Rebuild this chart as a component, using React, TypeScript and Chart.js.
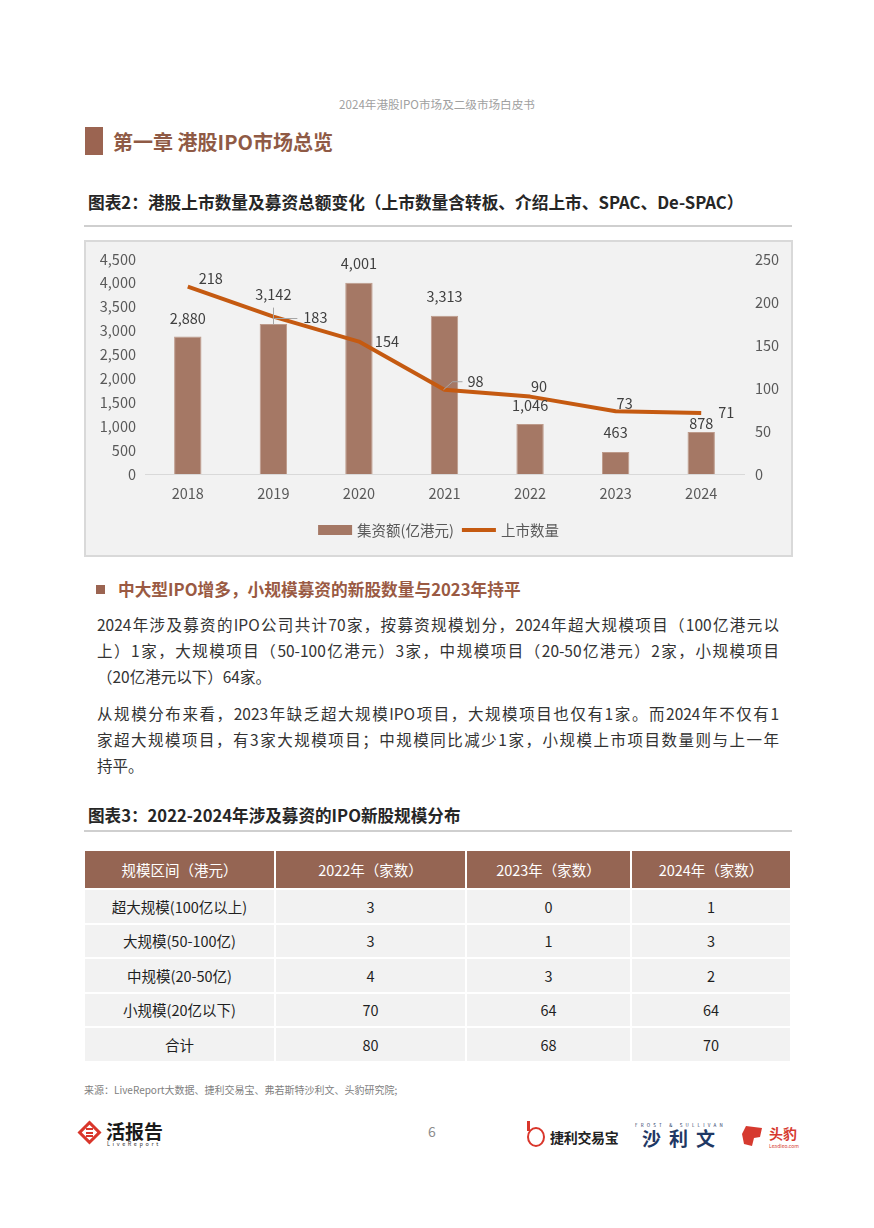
import React, { useEffect, useRef } from 'react';
import { Chart, registerables } from 'chart.js';

Chart.register(...registerables);

const FONT = '"Noto Sans CJK SC", "Noto Sans", sans-serif';

// ---------- data ----------
const years = ['2018', '2019', '2020', '2021', '2022', '2023', '2024'];
const fundsRaised = [2880, 3142, 4001, 3313, 1046, 463, 878]; // 亿港元
const listingCount = [218, 183, 154, 98, 90, 73, 71];
const legendLabels = ['集资额(亿港元)', '上市数量'];
const leftAxis = { min: 0, max: 4500, step: 500 };
const rightAxis = { min: 0, max: 250, step: 50 };

const tableHeader = ['规模区间（港元）', '2022年（家数）', '2023年（家数）', '2024年（家数）'];
const tableRowLabels = ['超大规模(100亿以上)', '大规模(50-100亿)', '中规模(20-50亿)', '小规模(20亿以下)', '合计'];
const count2022 = [3, 3, 4, 70, 80];
const count2023 = [0, 1, 3, 64, 68];
const count2024 = [1, 3, 2, 64, 70];

const para1 = [
  '2024年涉及募资的IPO公司共计70家，按募资规模划分，2024年超大规模项目（100亿港元以',
  '上）1家，大规模项目（50-100亿港元）3家，中规模项目（20-50亿港元）2家，小规模项目',
  '（20亿港元以下）64家。',
];
const para2 = [
  '从规模分布来看，2023年缺乏超大规模IPO项目，大规模项目也仅有1家。而2024年不仅有1',
  '家超大规模项目，有3家大规模项目；中规模同比减少1家，小规模上市项目数量则与上一年',
  '持平。',
];

// ---------- label layout (offsets from the mark, in px) ----------
const BAR_LABEL_LIFT = [18, 29, 19, 19, 19, 19, 9];
const LINE_LABEL_OFFSET: [number, number][] = [
  [23, -8], [42, 1], [28, 0], [31, -8], [9, -10], [9, -8], [25, 0],
];

// ---------- styles ----------
const BAR_COLOR = '#A57865';
const LINE_COLOR = '#C55A11';
const TICK_COLOR = '#595959';
const LABEL_COLOR = '#404040';
const BROWN = '#9B6451';

const fmt = (v: number) => Number(v).toLocaleString('en-US');

const overlayPlugin = {
  id: 'overlay',
  afterDatasetsDraw(chart: any) {
    const ctx = chart.ctx;
    ctx.save();
    ctx.font = `14.5px ${FONT}`;
    ctx.fillStyle = LABEL_COLOR;
    ctx.textAlign = 'center';
    ctx.textBaseline = 'middle';
    const barMeta = chart.getDatasetMeta(0);
    barMeta.data.forEach((el: any, i: number) => {
      ctx.fillText(fmt(fundsRaised[i]), el.x, el.y - BAR_LABEL_LIFT[i]);
    });
    const lineMeta = chart.getDatasetMeta(1);
    // leader lines
    ctx.strokeStyle = '#A6A6A6';
    ctx.lineWidth = 1;
    const p1 = lineMeta.data[1];
    ctx.beginPath();
    ctx.moveTo(Math.round(p1.x) + 0.5, p1.y - 9);
    ctx.lineTo(Math.round(p1.x) + 0.5, p1.y + 8);
    ctx.moveTo(p1.x + 1, Math.round(p1.y) + 1.5);
    ctx.lineTo(p1.x + 24, Math.round(p1.y) + 1.5);
    ctx.stroke();
    const p3 = lineMeta.data[3];
    ctx.beginPath();
    ctx.moveTo(p3.x - 1, p3.y);
    ctx.lineTo(p3.x + 8, p3.y - 8);
    ctx.lineTo(p3.x + 18, p3.y - 8);
    ctx.stroke();
    lineMeta.data.forEach((el: any, i: number) => {
      const [dx, dy] = LINE_LABEL_OFFSET[i];
      ctx.fillText(String(listingCount[i]), el.x + dx, el.y + dy);
    });
    ctx.restore();
  },
  afterDraw(chart: any) {
    const ctx = chart.ctx;
    ctx.save();
    ctx.font = `14.5px ${FONT}`;
    ctx.textBaseline = 'middle';
    ctx.textAlign = 'left';
    const sw = 34, gap = 5, itemGap = 8;
    const w0 = ctx.measureText(legendLabels[0]).width;
    const w1 = ctx.measureText(legendLabels[1]).width;
    const total = sw + gap + w0 + itemGap + sw + gap + w1;
    let x = (chart.width - total) / 2;
    const y = chart.chartArea.bottom + 56;
    ctx.fillStyle = BAR_COLOR;
    ctx.fillRect(x, y - 5, sw, 10);
    x += sw + gap;
    ctx.fillStyle = TICK_COLOR;
    ctx.fillText(legendLabels[0], x, y);
    x += w0 + itemGap;
    ctx.strokeStyle = LINE_COLOR;
    ctx.lineWidth = 4;
    ctx.beginPath();
    ctx.moveTo(x, y);
    ctx.lineTo(x + sw, y);
    ctx.stroke();
    x += sw + gap;
    ctx.fillStyle = TICK_COLOR;
    ctx.fillText(legendLabels[1], x, y);
    ctx.restore();
  },
};

function ComboChart() {
  const ref = useRef<HTMLCanvasElement | null>(null);
  useEffect(() => {
    if (!ref.current) return;
    const tickFont = { family: FONT, size: 14.5 };
    const chart = new Chart(ref.current, {
      data: {
        labels: years,
        datasets: [
          {
            type: 'bar',
            label: legendLabels[0],
            data: fundsRaised,
            yAxisID: 'yL',
            backgroundColor: BAR_COLOR,
            borderColor: '#BD9A8A',
            borderWidth: 1,
            barPercentage: 0.32,
            categoryPercentage: 1,
            order: 2,
          },
          {
            type: 'line',
            label: legendLabels[1],
            data: listingCount,
            yAxisID: 'yR',
            borderColor: LINE_COLOR,
            backgroundColor: LINE_COLOR,
            borderWidth: 4,
            pointRadius: 0,
            tension: 0,
            borderJoinStyle: 'round',
            borderCapStyle: 'butt',
            order: 1,
          },
        ],
      } as any,
      options: {
        responsive: false,
        animation: false,
        devicePixelRatio: 1,
        layout: { padding: { top: 17, left: 0, right: 0, bottom: 0 } },
        plugins: { legend: { display: false }, tooltip: { enabled: false } },
        scales: {
          x: {
            type: 'category',
            offset: true,
            grid: { display: false, drawTicks: false },
            border: { display: true, color: '#D9D9D9', width: 1 },
            ticks: { color: TICK_COLOR, font: tickFont, padding: 11, maxRotation: 0 },
            afterFit(s: any) { s.height = 81; s.paddingLeft = 0; s.paddingRight = 0; },
          },
          yL: {
            position: 'left',
            min: leftAxis.min,
            max: leftAxis.max,
            grid: { display: false, drawTicks: false },
            border: { display: false },
            ticks: { stepSize: leftAxis.step, color: TICK_COLOR, font: tickFont, padding: 9, callback: (v: any) => fmt(v) },
            afterFit(s: any) { s.width = 59; s.paddingTop = 0; s.paddingBottom = 0; },
          },
          yR: {
            position: 'right',
            min: rightAxis.min,
            max: rightAxis.max,
            grid: { display: false, drawTicks: false },
            border: { display: false },
            ticks: { stepSize: rightAxis.step, color: TICK_COLOR, font: tickFont, padding: 11 },
            afterFit(s: any) { s.width = 47; s.paddingTop = 0; s.paddingBottom = 0; },
          },
        } as any,
      },
      plugins: [overlayPlugin],
    });
    return () => chart.destroy();
  }, []);
  return <canvas ref={ref} width={705} height={313} style={{ display: 'block', width: 705, height: 313 }} />;
}

const abs = (left: number, top: number, extra: React.CSSProperties = {}): React.CSSProperties => ({
  position: 'absolute', left, top, ...extra,
});

function TextLine({ left, cy, size, children, style = {} }: any) {
  const lh = Math.round(size * 1.5);
  return (
    <div style={{ ...abs(left, cy - lh / 2), fontSize: size, lineHeight: `${lh}px`, whiteSpace: 'nowrap', ...style }}>
      {children}
    </div>
  );
}

function Paragraph({ lines, startY }: { lines: string[]; startY: number }) {
  return (
    <>
      {lines.map((t, i) => {
        const full = i < lines.length - 1;
        return (
          <div
            key={i}
            style={{
              ...abs(97, startY + i * 26 - 13),
              width: 682,
              fontSize: 15.5,
              lineHeight: '26px',
              color: '#333333',
              textAlign: full ? 'justify' : 'left',
              textAlignLast: full ? 'justify' : 'left',
              whiteSpace: 'nowrap',
            } as any}
          >
            {t}
          </div>
        );
      })}
    </>
  );
}

function Table() {
  const cols = [189, 189, 163, 158];
  const rows = tableRowLabels.map((lab, i) => [lab, count2022[i], count2023[i], count2024[i]]);
  return (
    <div
      style={{
        ...abs(85, 851),
        display: 'grid',
        gridTemplateColumns: cols.map((c) => `${c}px`).join(' '),
        gridTemplateRows: `37px repeat(5, 32.5px)`,
        columnGap: 2,
        rowGap: 2,
        fontSize: 14.5,
      }}
    >
      {tableHeader.map((h, i) => (
        <div key={'h' + i} style={{ background: '#956553', color: '#FFFFFF', display: 'flex', alignItems: 'center', justifyContent: 'center' }}>
          {h}
        </div>
      ))}
      {rows.map((r, ri) =>
        r.map((c, ci) => (
          <div key={ri + '-' + ci} style={{ background: '#F2F2F2', color: '#1F1F1F', display: 'flex', alignItems: 'center', justifyContent: 'center' }}>
            {String(c)}
          </div>
        )),
      )}
    </div>
  );
}

function Logos() {
  return (
    <>
      {/* 活报告 */}
      <div style={{ ...abs(81, 1124), width: 17, height: 17, border: '3.5px solid #D9362B', transform: 'rotate(45deg)', boxSizing: 'border-box' }} />
      <div style={{ ...abs(86, 1128), width: 7, height: 9, borderTop: '2px solid #D9362B', borderBottom: '2px solid #D9362B', boxSizing: 'border-box' }} />
      <div style={{ ...abs(86, 1131.5), width: 7, height: 2, background: '#D9362B' }} />
      <TextLine left={106} cy={1130} size={19} style={{ fontWeight: 700, color: '#1A1A1A', letterSpacing: 0 }}>活报告</TextLine>
      <TextLine left={107} cy={1144} size={5.5} style={{ color: '#333', letterSpacing: 2.6 }}>LiveReport</TextLine>
      {/* 捷利交易宝 */}
      <div style={{ ...abs(527, 1127), width: 18, height: 20, border: '2.5px solid #D9362B', borderRadius: '50%', boxSizing: 'border-box' }} />
      <div style={{ ...abs(527, 1121), width: 3, height: 10, background: '#D9362B' }} />
      <TextLine left={550} cy={1137} size={14} style={{ fontWeight: 700, color: '#222', letterSpacing: -0.3 }}>捷利交易宝</TextLine>
      {/* 沙利文 */}
      <TextLine left={635} cy={1125} size={4.5} style={{ color: '#1F3864', letterSpacing: 3.2 }}>FROST &amp; SULLIVAN</TextLine>
      <TextLine left={642} cy={1137} size={19} style={{ fontWeight: 700, color: '#1F3864', letterSpacing: 8 }}>沙利文</TextLine>
      {/* 头豹 */}
      <div style={{ ...abs(742, 1126), width: 20, height: 20, background: '#D63A2F', clipPath: 'polygon(20% 0, 100% 10%, 90% 55%, 60% 60%, 50% 100%, 10% 90%, 0 40%)' }} />
      <TextLine left={769} cy={1133} size={14} style={{ fontWeight: 700, color: '#D63A2F' }}>头豹</TextLine>
      <TextLine left={769} cy={1146} size={5} style={{ color: '#D63A2F' }}>Leadleo.com</TextLine>
    </>
  );
}

export default function App() {
  return (
    <div style={{ position: 'absolute', left: 0, top: 0, width: 874, height: 1228, background: '#FFFFFF', fontFamily: FONT, overflow: 'hidden' }}>
      <div style={{ ...abs(0, 95), width: 874, textAlign: 'center', fontSize: 11.6, lineHeight: '18px', color: '#A0A0A0' }}>
        2024年港股IPO市场及二级市场白皮书
      </div>
      <div style={{ ...abs(85, 127), width: 18, height: 28, background: BROWN }} />
      <TextLine left={113} cy={142} size={20} style={{ fontWeight: 700, color: '#8F5A45' }}>第一章 港股IPO市场总览</TextLine>

      <TextLine left={88} cy={202} size={16.7} style={{ fontWeight: 700, color: '#262626' }}>
        图表2：港股上市数量及募资总额变化（上市数量含转板、介绍上市、SPAC、De-SPAC）
      </TextLine>
      <div style={{ ...abs(84, 225), width: 708, height: 2, background: '#CFCFCF' }} />

      <div style={{ ...abs(84, 240), width: 709, height: 317, border: '2px solid #D9D9D9', background: '#F2F2F2', boxSizing: 'border-box' }}>
        <ComboChart />
      </div>

      <div style={{ ...abs(96, 585), width: 9, height: 9, background: BROWN }} />
      <TextLine left={118} cy={589} size={16.7} style={{ fontWeight: 700, color: '#9A5A43' }}>
        中大型IPO增多，小规模募资的新股数量与2023年持平
      </TextLine>

      <Paragraph lines={para1} startY={624} />
      <Paragraph lines={para2} startY={713} />

      <TextLine left={88} cy={815} size={16.6} style={{ fontWeight: 700, color: '#262626' }}>
        图表3：2022-2024年涉及募资的IPO新股规模分布
      </TextLine>
      <div style={{ ...abs(84, 830), width: 708, height: 2, background: '#CFCFCF' }} />

      <Table />

      <TextLine left={84} cy={1089} size={10} style={{ color: '#808080' }}>
        来源：LiveReport大数据、捷利交易宝、弗若斯特沙利文、头豹研究院;
      </TextLine>
      <TextLine left={428} cy={1131} size={14} style={{ color: '#8C8C8C' }}>6</TextLine>

      <Logos />
    </div>
  );
}
